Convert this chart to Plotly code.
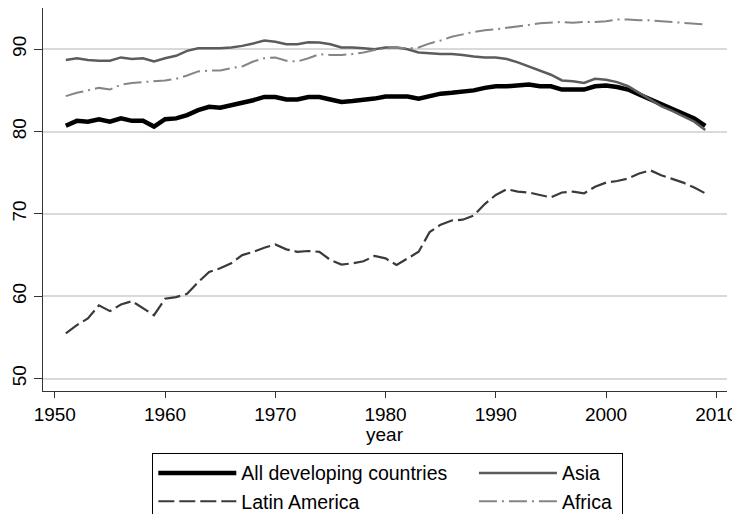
import plotly.graph_objects as go

years = list(range(1951, 2010))

all_developing = [80.7, 81.3, 81.2, 81.5, 81.2, 81.6, 81.3, 81.3, 80.6, 81.5,
                  81.6, 82.0, 82.6, 83.0, 82.9, 83.2, 83.4, 83.8, 84.2, 84.2,
                  83.9, 83.9, 84.2, 84.2, 83.9, 83.6, 83.7, 83.8, 84.0, 84.25,
                  84.3, 84.25, 84.0, 84.25, 84.6, 84.7, 84.8, 85.0, 85.3, 85.5,
                  85.5, 85.6, 85.7, 85.5, 85.5, 85.1, 85.1, 85.1, 85.5, 85.6,
                  85.4, 85.1, 84.5, 83.9, 83.4, 82.8, 82.1, 81.6, 80.7]

asia = [88.7, 88.9, 88.7, 88.6, 88.6, 89.0, 88.8, 88.9, 88.5, 88.9,
        89.2, 89.8, 90.1, 90.1, 90.1, 90.2, 90.4, 90.7, 91.05, 90.9,
        90.6, 90.6, 90.85, 90.8, 90.6, 90.2, 90.2, 90.1, 90.0, 90.2,
        90.2, 90.0, 89.6, 89.5, 89.4, 89.4, 89.3, 89.1, 89.0, 89.0,
        88.8, 88.4, 87.9, 87.4, 86.9, 86.2, 86.1, 85.9, 86.4, 86.3,
        86.0, 85.5, 84.7, 83.8, 83.1, 82.5, 81.8, 81.2, 80.2]

latin_america = [55.5, 56.5, 57.3, 58.9, 58.2, 59.0, 59.4, 58.5, 57.7, 59.7,
                 59.9, 60.3, 61.7, 62.95, 63.4, 64.0, 65.0, 65.4, 65.9, 66.3,
                 65.7, 65.4, 65.5, 65.4, 64.4, 63.85, 64.0, 64.25, 64.9, 64.6,
                 63.8, 64.6, 65.4, 67.8, 68.7, 69.2, 69.3, 69.8, 71.2, 72.3,
                 73.0, 72.7, 72.6, 72.3, 72.0, 72.6, 72.7, 72.5, 73.3, 73.8,
                 74.0, 74.3, 74.9, 75.3, 74.7, 74.25, 73.8, 73.2, 72.5]

africa = [84.3, 84.7, 85.0, 85.3, 85.1, 85.7, 85.9, 86.0, 86.1, 86.2,
          86.4, 86.8, 87.3, 87.4, 87.4, 87.7, 87.9, 88.5, 88.9, 89.0,
          88.6, 88.5, 88.9, 89.4, 89.3, 89.3, 89.4, 89.6, 89.9, 90.1,
          90.2, 90.1, 90.2, 90.7, 91.05, 91.5, 91.8, 92.1, 92.3, 92.4,
          92.6, 92.75, 92.95, 93.15, 93.2, 93.3, 93.2, 93.3, 93.3, 93.4,
          93.6, 93.6, 93.5, 93.5, 93.4, 93.3, 93.2, 93.15, 93.0]

x_ticks = [1950, 1960, 1970, 1980, 1990, 2000, 2010]
y_ticks = [50, 60, 70, 80, 90]
x_title = "year"

FONT = "Liberation Sans, Arial, sans-serif"
NB = "\u00a0"

# the page body has an 8px margin, so the figure is 8px smaller than the window
W, H = 732, 506
PLOT_H = 383

fig = go.Figure()
fig.add_trace(go.Scatter(x=years, y=all_developing, mode="lines",
                         name="All developing countries" + NB * 4,
                         line=dict(color="#000000", width=4.5)))
fig.add_trace(go.Scatter(x=years, y=asia, mode="lines", name="Asia",
                         line=dict(color="#5c5c5c", width=2.5)))
fig.add_trace(go.Scatter(x=years, y=latin_america, mode="lines", name="Latin America",
                         line=dict(color="#3a3a3a", width=2.2, dash="16px,5px")))
fig.add_trace(go.Scatter(x=years, y=africa, mode="lines", name="Africa" + NB,
                         line=dict(color="#858585", width=2, dash="18px,5px,2px,5px")))

fig.add_annotation(text=x_title, xref="paper", yref="paper", x=0.5, y=0,
                   xanchor="center", yanchor="middle", yshift=-(426 - PLOT_H),
                   showarrow=False, font=dict(family=FONT, size=19, color="#000000"))

fig.update_layout(
    width=W, height=H,
    margin=dict(l=35, r=13, t=0, b=H - PLOT_H, autoexpand=False),
    paper_bgcolor="white", plot_bgcolor="white",
    font=dict(family=FONT, size=19, color="#000000"),
    showlegend=True,
    legend=dict(
        orientation="h",
        xref="container", yref="container",
        x=(152.3 - 8) / W, y=1 - (452.7 - 8) / H,
        xanchor="left", yanchor="top",
        font=dict(family=FONT, size=19.5, color="#000000"),
        itemwidth=78,
        bordercolor="#000000", borderwidth=1,
        bgcolor="white",
        traceorder="normal",
    ),
    xaxis=dict(
        range=[1948.93, 2010.97],
        tickmode="array", tickvals=x_ticks, ticktext=[str(v) for v in x_ticks],
        ticks="outside", ticklen=6, tickcolor="#333333", tickwidth=1,
        showline=True, linecolor="#333333", linewidth=1,
        showgrid=False, zeroline=False,
        tickfont=dict(size=19),
    ),
    yaxis=dict(
        range=[48.5, 95.0],
        tickmode="array", tickvals=y_ticks, ticktext=[str(v) for v in y_ticks],
        ticks="outside", ticklen=8, tickcolor="#333333", tickwidth=1,
        tickangle=-90,
        showline=True, linecolor="#333333", linewidth=1,
        showgrid=True, gridcolor="#d9d9d9", gridwidth=2,
        zeroline=False,
        tickfont=dict(size=19),
    ),
)

fig.write_html("out.html")
